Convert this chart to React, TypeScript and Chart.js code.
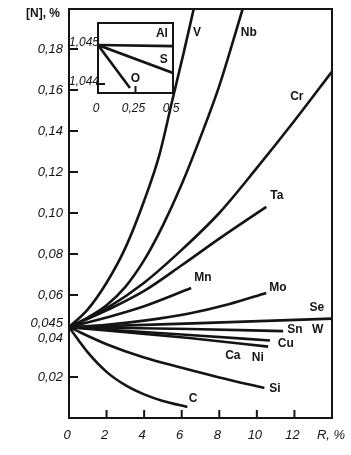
import React, { useEffect, useRef } from "react";
import { Chart, registerables } from "chart.js";
Chart.register(...registerables);

type P = [number, number];

// ---- main chart data (R, % vs [N], %) ----
const V: P[] = [[0, 0.0443], [1, 0.053], [2, 0.066], [3, 0.083], [4, 0.106], [4.8, 0.128], [5.5, 0.155], [6.1, 0.178], [6.65, 0.2]];
const Nb: P[] = [[0, 0.0443], [1, 0.049], [2, 0.055], [3, 0.064], [4, 0.077], [5, 0.094], [6, 0.114], [7, 0.137], [8, 0.162], [9.26, 0.2]];
const Cr: P[] = [[0, 0.0443], [2, 0.0535], [4, 0.066], [6, 0.082], [8, 0.1], [10, 0.122], [12, 0.145], [14, 0.169]];
const Ta: P[] = [[0, 0.0443], [2, 0.0525], [4, 0.062], [6, 0.0745], [8, 0.0875], [10.5, 0.103]];
const Mn: P[] = [[0, 0.0443], [2, 0.049], [4, 0.0545], [6.5, 0.0634]];
const Mo: P[] = [[0, 0.0443], [2, 0.0455], [4, 0.0475], [6.4, 0.051], [8.5, 0.0555], [10.5, 0.061]];
const SeW: P[] = [[0, 0.0443], [7, 0.0463], [14, 0.0485]];
const Sn: P[] = [[0, 0.0443], [6.4, 0.0434], [11.4, 0.0424]];
const Cu: P[] = [[0, 0.0443], [6.4, 0.0405], [10.7, 0.0378]];
const CaNi: P[] = [[0, 0.0443], [6.4, 0.039], [10.6, 0.0348]];
const Si: P[] = [[0, 0.0443], [2, 0.036], [4, 0.0295], [6, 0.0245], [8, 0.0198], [10.4, 0.0146]];
const C: P[] = [[0, 0.0443], [1, 0.032], [2, 0.0225], [3, 0.016], [4, 0.0115], [5, 0.0083], [6.3, 0.0054]];

const mainSeries: P[][] = [V, Nb, Cr, Ta, Mn, Mo, SeW, Sn, Cu, CaNi, Si, C];

// curve labels (text, data x, data y)
const curveLabelText = ["V", "Nb", "Cr", "Ta", "Mn", "Mo", "Se", "Sn", "W", "Cu", "Ca", "Ni", "Si", "C"];
const curveLabelX = [6.81, 9.57, 12.13, 11.06, 7.13, 11.12, 13.19, 12.02, 13.24, 11.54, 8.72, 10.05, 10.96, 6.6];
const curveLabelY = [0.1878, 0.1878, 0.1566, 0.1083, 0.0683, 0.0634, 0.0537, 0.0429, 0.0429, 0.0361, 0.0302, 0.0293, 0.0141, 0.0093];

const xLabelValues = [0, 2, 4, 6, 8, 10, 12];
const xTickMarks = [2, 4, 6, 8, 10, 12];
const yLabelValues = [0.02, 0.04, 0.045, 0.06, 0.08, 0.1, 0.12, 0.14, 0.16, 0.18];
const yLabelText = ["0,02", "0,04", "0,045", "0,06", "0,08", "0,10", "0,12", "0,14", "0,16", "0,18"];
const yTickMarks = [0.02, 0.06, 0.08, 0.1, 0.12, 0.14, 0.16, 0.18];

// ---- inset data ----
const Al: P[] = [[0, 1.045], [0.5, 1.04497]];
const S: P[] = [[0, 1.045], [0.5, 1.044282]];
const O: P[] = [[0, 1.045], [0.213, 1.043897]];
const insetSeries: P[][] = [Al, S, O];
const insetLabelText = ["Al", "S", "O"];
const insetLabelX = [0.426, 0.439, 0.25];
const insetLabelY = [1.045297, 1.044622, 1.044135];
const insetXLabelValues = [0, 0.25, 0.5];
const insetXLabelText = ["0", "0,25", "0,5"];
const insetXTickMarks = [0.25];
const insetYLabelValues = [1.045, 1.044];
const insetYLabelText = ["1,045", "1,044"];
const insetYTickMarks = [1.044, 1.045];

const INK = "#141414";
const NUM_FONT = 'italic 13px "Liberation Sans", Arial, sans-serif';
const LBL_FONT = 'bold 12px "Liberation Sans", Arial, sans-serif';

const mainPlugin = {
  id: "mainAxes",
  afterDraw(chart: any) {
    const { ctx, chartArea: a, scales } = chart;
    const x = scales.x, y = scales.y;
    ctx.save();
    ctx.strokeStyle = INK;
    ctx.fillStyle = INK;
    ctx.lineWidth = 2;
    ctx.strokeRect(a.left, a.top + 1, a.right - a.left, a.bottom - a.top - 1);
    ctx.beginPath();
    xTickMarks.forEach((v) => {
      const px = x.getPixelForValue(v);
      ctx.moveTo(px, a.bottom);
      ctx.lineTo(px, a.bottom - 8);
    });
    yTickMarks.forEach((v) => {
      const py = y.getPixelForValue(v);
      ctx.moveTo(a.left, py);
      ctx.lineTo(a.left + 9, py);
    });
    ctx.stroke();

    ctx.font = NUM_FONT;
    ctx.textAlign = "right";
    ctx.textBaseline = "middle";
    yLabelValues.forEach((v, i) => {
      let py = y.getPixelForValue(v);
      if (v === 0.045) py -= 2;
      if (v === 0.04) py += 2;
      ctx.fillText(yLabelText[i], a.left - 6, py);
    });
    ctx.textAlign = "center";
    xLabelValues.forEach((v) => {
      ctx.fillText(String(v), x.getPixelForValue(v) - 2, a.bottom + 17);
    });
    ctx.fillText("R, %", 331, a.bottom + 17);
    ctx.font = 'bold 12px "Liberation Sans", Arial, sans-serif';
    ctx.textAlign = "left";
    ctx.fillText("[N], %", 26, 14);

    ctx.font = LBL_FONT;
    ctx.textAlign = "center";
    curveLabelText.forEach((t, i) => {
      ctx.fillText(t, x.getPixelForValue(curveLabelX[i]), y.getPixelForValue(curveLabelY[i]));
    });
    ctx.restore();
  },
};

const insetPlugin = {
  id: "insetAxes",
  beforeDatasetsDraw(chart: any) {
    const { ctx, chartArea: a } = chart;
    ctx.save();
    ctx.fillStyle = "#fff";
    ctx.fillRect(a.left, a.top, a.right - a.left, a.bottom - a.top);
    ctx.restore();
  },
  afterDraw(chart: any) {
    const { ctx, chartArea: a, scales } = chart;
    const x = scales.x, y = scales.y;
    ctx.save();
    ctx.strokeStyle = INK;
    ctx.fillStyle = INK;
    ctx.lineWidth = 2;
    ctx.strokeRect(a.left, a.top, a.right - a.left, a.bottom - a.top);
    ctx.beginPath();
    insetXTickMarks.forEach((v) => {
      const px = x.getPixelForValue(v);
      ctx.moveTo(px, a.bottom);
      ctx.lineTo(px, a.bottom - 7);
    });
    insetYTickMarks.forEach((v) => {
      const py = y.getPixelForValue(v);
      ctx.moveTo(a.left, py);
      ctx.lineTo(a.left + 7, py);
    });
    ctx.stroke();
    ctx.font = 'italic 12px "Liberation Sans", Arial, sans-serif';
    ctx.textAlign = "right";
    ctx.textBaseline = "middle";
    insetYLabelValues.forEach((v, i) => {
      ctx.fillText(insetYLabelText[i], a.left + 1, y.getPixelForValue(v) - 2);
    });
    ctx.textAlign = "center";
    insetXLabelValues.forEach((v, i) => {
      ctx.fillText(insetXLabelText[i], x.getPixelForValue(v) - 2, a.bottom + 16);
    });
    ctx.font = LBL_FONT;
    insetLabelText.forEach((t, i) => {
      ctx.fillText(t, x.getPixelForValue(insetLabelX[i]), y.getPixelForValue(insetLabelY[i]));
    });
    ctx.restore();
  },
};

function toDataset(pts: P[], width: number, tension: boolean) {
  return {
    data: pts.map(([x, y]) => ({ x, y })),
    showLine: true,
    borderColor: INK,
    borderWidth: width,
    pointRadius: 0,
    fill: false,
    cubicInterpolationMode: tension ? ("monotone" as const) : ("default" as const),
    tension: 0,
  };
}

export default function App() {
  const mainRef = useRef<HTMLCanvasElement>(null);
  const insetRef = useRef<HTMLCanvasElement>(null);

  useEffect(() => {
    document.body.style.margin = "0";
    const main = new Chart(mainRef.current!, {
      type: "scatter",
      data: { datasets: mainSeries.map((s) => toDataset(s, 2.6, true)) },
      options: {
        animation: false,
        responsive: false,
        layout: { padding: { left: 69, top: 8, right: 19, bottom: 37 } },
        plugins: { legend: { display: false }, tooltip: { enabled: false } },
        scales: {
          x: { type: "linear", min: 0, max: 14, display: false },
          y: { type: "linear", min: 0, max: 0.2, display: false },
        },
      },
      plugins: [mainPlugin],
    });
    const inset = new Chart(insetRef.current!, {
      type: "scatter",
      data: { datasets: insetSeries.map((s) => toDataset(s, 2.6, false)) },
      options: {
        animation: false,
        responsive: false,
        layout: { padding: { left: 43, top: 8, right: 12, bottom: 27 } },
        plugins: { legend: { display: false }, tooltip: { enabled: false } },
        scales: {
          x: { type: "linear", min: 0, max: 0.5, display: false },
          y: { type: "linear", min: 1.043769, max: 1.045564, display: false },
        },
      },
      plugins: [insetPlugin],
    });
    return () => {
      main.destroy();
      inset.destroy();
    };
  }, []);

  return (
    <div style={{ position: "relative", width: 351, height: 455, background: "#fff" }}>
      <canvas ref={mainRef} width={351} height={455} style={{ position: "absolute", left: 0, top: 0, display: "block" }} />
      <canvas ref={insetRef} width={130} height={105} style={{ position: "absolute", left: 55, top: 15, display: "block" }} />
    </div>
  );
}
